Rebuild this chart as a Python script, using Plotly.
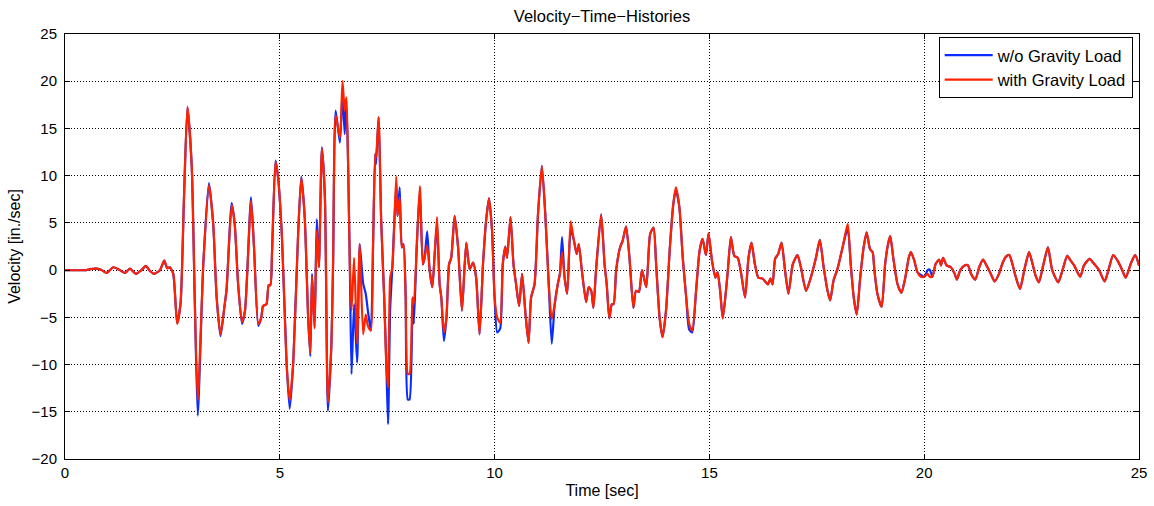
import plotly.graph_objects as go

# time [sec]
t = [0.00,0.50,0.58,0.74,0.85,0.97,1.12,1.26,1.40,1.51,
     1.65,1.78,1.88,1.98,2.07,2.21,2.31,2.38,2.44,2.52,
     2.61,2.69,2.77,2.85,2.95,3.02,3.09,3.22,3.35,3.45,
     3.53,3.62,3.71,3.76,3.88,3.95,4.03,4.12,4.19,4.33,
     4.40,4.50,4.57,4.61,4.69,4.74,4.78,4.82,4.90,4.96,
     5.05,5.16,5.23,5.31,5.43,5.50,5.58,5.66,5.71,5.75,
     5.81,5.86,5.91,5.98,6.05,6.12,6.20,6.24,6.30,6.40,
     6.46,6.51,6.55,6.59,6.63,6.67,6.73,6.80,6.86,6.94,
     7.00,7.05,7.12,7.17,7.22,7.24,7.30,7.36,7.43,7.48,
     7.52,7.57,7.62,7.71,7.74,7.79,7.84,7.88,7.93,7.98,
     8.02,8.09,8.12,8.19,8.26,8.33,8.37,8.43,8.49,8.55,
     8.60,8.66,8.72,8.76,8.82,8.88,8.94,8.99,9.07,9.15,
     9.24,9.34,9.42,9.50,9.57,9.65,9.73,9.81,9.87,9.94,
     10.00,10.06,10.13,10.19,10.25,10.29,10.37,10.44,10.50,10.57,
     10.64,10.72,10.79,10.85,10.93,11.01,11.10,11.18,11.26,11.33,
     11.40,11.47,11.52,11.57,11.63,11.69,11.77,11.84,11.91,11.96,
     12.03,12.13,12.19,12.25,12.30,12.36,12.48,12.56,12.61,12.67,
     12.73,12.77,12.83,12.92,12.98,13.06,13.14,13.23,13.29,13.36,
     13.43,13.53,13.62,13.70,13.76,13.84,13.91,13.99,14.08,14.16,
     14.22,14.30,14.38,14.46,14.53,14.60,14.69,14.77,14.84,14.92,
     14.98,15.06,15.14,15.19,15.25,15.31,15.37,15.43,15.50,15.58,
     15.66,15.74,15.83,15.91,15.98,16.06,16.14,16.24,16.36,16.42,
     16.47,16.53,16.60,16.68,16.76,16.84,16.94,17.05,17.13,17.25,
     17.36,17.48,17.57,17.66,17.75,17.81,17.89,17.98,18.10,18.22,
     18.29,18.36,18.43,18.51,18.59,18.66,18.74,18.80,18.84,18.91,
     19.01,19.09,19.16,19.21,19.28,19.38,19.47,19.56,19.64,19.69,
     19.77,19.84,19.92,20.00,20.08,20.13,20.19,20.27,20.35,20.39,
     20.44,20.52,20.62,20.71,20.76,20.84,20.94,21.02,21.09,21.19,
     21.28,21.37,21.45,21.55,21.64,21.74,21.82,21.90,21.98,22.05,
     22.13,22.23,22.33,22.44,22.52,22.60,22.67,22.78,22.88,22.98,
     23.12,23.22,23.33,23.41,23.49,23.63,23.72,23.85,23.93,24.07,
     24.20,24.30,24.40,24.50,24.59,24.69,24.81,24.91,25.00]

# velocity without gravity load [in./sec]
v_without = [0,0,0.1,0.15,0.0,-0.3,0.3,0.05,-0.3,0.15,
     -0.4,0.0,0.45,-0.1,-0.4,0.0,1.0,0.2,0.3,-0.4,
     -5.6,-3.5,7.7,17.2,11.0,-3.0,-15.4,0.7,9.2,4.9,
     -2.9,-7.0,-3.9,-2.1,7.1,4.9,-1.5,-5.7,-4.3,7.7,
     2.4,-5.9,-5.0,-3.8,-3.6,-1.6,-1.6,2.0,11.6,9.8,
     3.5,-10.0,-14.7,-10.0,4.2,9.9,5.6,-5.0,-9.1,-0.4,
     -6.0,5.4,0.3,13.0,7.7,-14.9,-8.0,0.6,16.9,13.5,
     18.8,14.4,17.9,11.2,0.6,-11.0,-3.6,-9.8,2.75,-1.4,
     -2.5,-4.3,-6.4,2.4,12.3,11.2,16.2,5.2,-2.9,-10.0,
     -16.3,-4.0,0.3,9.1,5.75,8.75,2.4,2.75,-2.9,-13.7,
     -13.7,-2.9,-5.7,2.75,8.4,0.6,1.3,4.1,-0.1,-1.8,
     1.3,4.9,-1.5,-2.9,-7.5,-5.0,0.6,1.3,5.75,2.4,
     -4.3,2.9,0.1,0.8,-0.8,-6.8,0.6,5.6,7.6,4.2,
     -2.9,-6.6,-6.2,0.6,2.5,1.3,5.6,0.6,-1.5,-3.8,
     -0.4,-4.7,-7.7,-2.9,-1.5,5.9,11.05,5.9,-1.5,-7.8,
     -3.6,-1.5,-0.4,3.5,-0.8,-2.5,4.2,3.3,1.7,2.75,
     0.0,-3.4,-1.8,-2.2,-4.0,-0.1,5.9,0.6,-1.5,-5.1,
     -3.6,-3.6,0.0,2.4,3.1,4.6,1.3,-4.0,-2.2,-2.3,
     0.0,-1.8,3.8,4.5,0.6,-5.0,-7.1,-4.3,2.4,7.0,
     8.5,6.7,1.3,-2.9,-6.3,-6.6,-2.2,2.0,3.3,1.6,
     3.9,1.0,-0.8,-0.2,-2.2,-5.1,-2.9,0.0,3.5,1.5,
     1.3,-0.4,-2.9,1.3,2.9,0.6,-0.8,-0.9,-1.5,-0.9,
     -1.5,1.2,1.7,2.9,0.0,-2.5,0.6,1.6,0.3,-2.2,
     -0.8,1.3,3.2,0.3,-2.2,-3.2,-1.1,0.1,2.4,4.4,
     0.6,-2.9,-4.7,-0.8,2.4,4.0,2.2,1.9,0.0,-2.5,
     -3.9,0.6,2.8,3.6,1.3,-1.5,-2.4,-0.8,1.3,1.9,
     1.0,-0.2,-0.5,-0.7,0.0,0.05,-0.7,0.7,1.1,0.5,
     1.3,0.5,0.3,-0.4,-1.0,0.0,0.5,0.5,-0.4,-1.0,
     0.3,1.1,0.5,-0.4,-1.2,-0.4,0.7,1.4,1.6,0.7,
     -0.7,-2.0,0.0,1.9,0.7,-0.7,-1.3,0.7,2.4,0.0,
     -1.3,0.0,1.5,1.0,0.5,-0.7,0.5,1.2,0.8,0.0,
     -1.2,0.2,1.6,1.0,0.2,-0.8,0.7,1.6,0.5]

# velocity with gravity load [in./sec]
v_with = [0,0,0.1,0.15,0.0,-0.3,0.3,0.05,-0.3,0.15,
     -0.4,0.0,0.45,-0.1,-0.4,0.0,1.0,0.2,0.3,-0.4,
     -5.7,-3.5,7.7,17.3,11.0,-3.0,-13.8,0.7,9.0,4.9,
     -2.9,-6.8,-3.9,-2.1,6.9,4.9,-1.5,-5.5,-4.3,7.3,
     2.4,-5.7,-5.0,-3.8,-3.6,-1.6,-1.6,2.0,11.5,9.8,
     3.5,-10.0,-13.8,-10.0,4.2,9.8,5.6,-5.0,-8.8,-0.6,
     -6.2,4.2,0.3,12.9,7.7,-14.0,-8.0,0.6,16.4,14.0,
     20.0,16.9,18.3,11.2,0.6,-4.3,1.3,-7.8,2.75,-6.8,
     -4.7,-5.9,-6.4,2.4,12.3,11.9,16.2,5.2,-2.9,-10.0,
     -12.4,-0.8,0.3,9.9,5.75,7.7,2.4,2.75,-2.9,-11.0,
     -11.0,-2.9,-3.6,2.75,8.9,0.6,1.3,2.6,-0.1,-1.8,
     1.3,5.6,-1.5,-2.9,-6.6,-5.0,0.6,1.3,5.75,2.4,
     -4.3,2.9,0.1,0.8,-0.8,-6.8,0.6,5.6,7.6,4.2,
     -2.9,-5.0,-5.6,0.6,2.5,1.3,5.6,0.6,-1.5,-3.8,
     -0.4,-4.7,-7.7,-2.9,-1.5,5.9,11.05,5.9,-1.5,-5.2,
     -3.6,-1.5,-0.4,1.9,-0.8,-2.5,5.15,3.3,1.7,2.75,
     0.0,-3.4,-1.8,-2.2,-4.0,-0.1,5.9,0.6,-1.5,-5.1,
     -3.6,-3.6,0.0,2.4,3.1,4.6,1.3,-4.0,-2.2,-2.3,
     0.0,-1.8,3.8,4.5,0.6,-5.0,-7.1,-4.3,2.4,7.0,
     8.75,6.7,1.3,-2.9,-5.7,-6.4,-2.2,2.0,3.3,1.6,
     3.9,1.0,-0.8,-0.2,-2.2,-5.1,-2.9,0.0,3.5,1.5,
     1.3,-0.4,-2.9,1.3,2.9,0.6,-0.8,-0.9,-1.5,-0.9,
     -1.5,1.2,1.7,2.9,0.0,-2.5,0.6,1.6,0.3,-2.2,
     -0.8,1.3,3.2,0.3,-2.2,-3.2,-1.1,0.1,2.4,4.9,
     0.6,-2.9,-4.7,-0.8,2.4,4.0,2.2,1.9,0.0,-2.5,
     -3.9,0.6,2.8,3.6,1.3,-1.5,-2.4,-0.8,1.3,1.9,
     1.0,-0.2,-0.7,-0.7,-0.4,-0.7,-0.7,0.7,1.1,0.5,
     1.3,0.5,0.3,-0.4,-1.0,0.0,0.5,0.5,-0.4,-1.0,
     0.3,1.1,0.5,-0.4,-1.2,-0.4,0.7,1.4,1.6,0.7,
     -0.7,-2.0,0.0,1.9,0.7,-0.7,-1.3,0.7,2.4,0.0,
     -1.3,0.0,1.5,1.0,0.5,-0.7,0.5,1.2,0.8,0.0,
     -1.2,0.2,1.6,1.0,0.2,-0.8,0.7,1.6,0.5]

series_names = ["w/o Gravity Load", "with Gravity Load"]
x_ticks = [0, 5, 10, 15, 20, 25]
y_ticks = [-20, -15, -10, -5, 0, 5, 10, 15, 20, 25]

FONT = "Liberation Sans, Arial, Helvetica, sans-serif"

fig = go.Figure()
fig.add_trace(go.Scatter(x=t, y=v_without, mode="lines", name=series_names[0],
                         line=dict(color="#0a2cff", width=2.2, shape="spline", smoothing=0.6)))
fig.add_trace(go.Scatter(x=t, y=v_with, mode="lines", name=series_names[1],
                         line=dict(color="#ff2200", width=2.2, shape="spline", smoothing=0.6)))

axis_common = dict(
    showgrid=True, gridcolor="black", gridwidth=1, griddash="1px,2px",
    zeroline=False, showline=True, linecolor="black", linewidth=1,
    mirror="ticks", ticks="inside", ticklen=5, tickcolor="black",
    automargin=False,
    tickfont=dict(family=FONT, size=15, color="black"),
)

fig.update_xaxes(range=[0, 25], tickvals=x_ticks,
                 title=dict(text="Time [sec]", font=dict(family=FONT, size=16, color="black"), standoff=4),
                 **axis_common)
fig.update_yaxes(range=[-20, 25], tickvals=y_ticks,
                 title=dict(text="Velocity [in./sec]", font=dict(family=FONT, size=16, color="black"), standoff=6),
                 ticklabelstandoff=4,
                 **axis_common)

fig.update_layout(
    width=1154, height=506,
    margin=dict(l=65, r=15, t=34, b=47, autoexpand=False),
    paper_bgcolor="white", plot_bgcolor="white",
    title=dict(text="Velocity\u2212Time\u2212Histories", x=0.5, xref="paper", xanchor="center",
               y=1 - 16 / 506, yanchor="middle",
               font=dict(family=FONT, size=16.5, color="black")),
    legend=dict(x=0.8135, y=0.993, xanchor="left", yanchor="top",
                bgcolor="white", bordercolor="black", borderwidth=1,
                font=dict(family=FONT, size=16.5, color="black"),
                itemwidth=48, tracegroupgap=0),
    showlegend=True,
)

fig.write_html("out.html")
